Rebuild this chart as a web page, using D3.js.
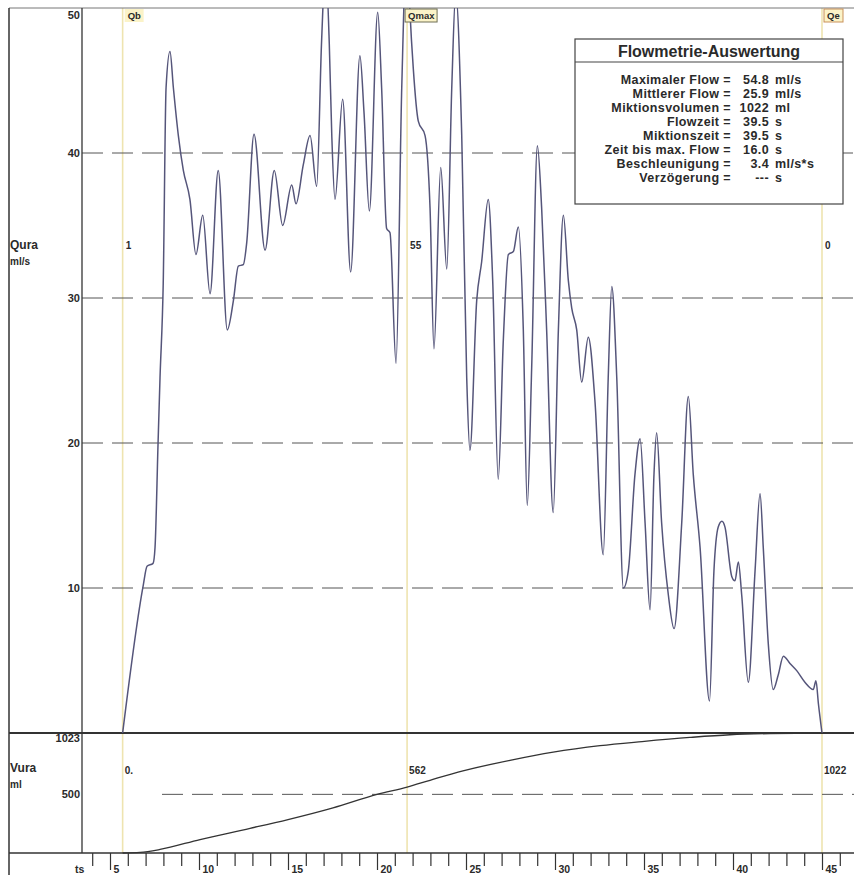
<!DOCTYPE html>
<html>
<head>
<meta charset="utf-8">
<script src="https://cdn.jsdelivr.net/npm/d3@7"></script>
<style>
  body { margin: 0; background: #fff; }
  svg { display: block; font-family: "Liberation Sans", Arial, sans-serif; }
  text { fill: #2a2a2a; }
</style>
</head>
<body>
<svg id="chart" width="854" height="875"></svg>
<script>
// flow curve (time in s, flow in ml/s)
const flowTime = [
  5.71, 6.87, 7.08, 7.42, 7.53, 7.70, 7.81, 7.99, 8.15, 8.37,
  8.56, 8.84, 9.12, 9.49, 9.83, 10.21, 10.62, 11.08, 11.59, 11.93,
  12.21, 12.49, 12.68, 13.09, 13.71, 14.23, 14.70, 15.21, 15.45, 15.86,
  16.24, 16.61, 16.89, 17.11, 17.32, 17.46, 17.64, 18.07, 18.52, 19.04,
  19.27, 19.57, 20.04, 20.26, 20.54, 20.73, 21.07, 21.39, 21.69, 21.85,
  22.04, 22.32, 22.70, 22.98, 23.20, 23.58, 23.92, 24.20, 24.42, 24.76,
  25.04, 25.22, 25.60, 25.88, 26.25, 26.50, 26.81, 27.10, 27.38, 27.66,
  27.94, 28.22, 28.44, 28.69, 29.01, 29.25, 29.53, 29.90, 30.19, 30.47,
  30.75, 30.94, 31.22, 31.50, 31.87, 32.25, 32.71, 32.99, 33.19, 33.47,
  33.84, 34.12, 34.49, 34.78, 35.06, 35.34, 35.56, 35.71, 35.99, 36.37,
  36.69, 37.12, 37.49, 37.77, 38.15, 38.68, 38.93, 39.17, 39.38, 39.55,
  39.93, 40.11, 40.30, 40.49, 40.86, 41.24, 41.52, 41.70, 41.98, 42.26,
  42.54, 42.83, 43.20, 43.58, 44.04, 44.51, 44.66, 44.80, 45.00
]
const flowValue = [
  0, 10.2, 11.5, 11.7, 12.8, 20, 24.5, 31, 44.5, 47,
  44.5, 41.2, 38.8, 36.8, 33, 35.7, 30.3, 38.8, 27.8, 29.8,
  32.2, 32.3, 33.8, 41.3, 33.3, 38.8, 35, 37.8, 36.5, 39.2,
  41.2, 37.7, 47.8, 53, 47.5, 41.2, 36.8, 43.7, 31.8, 46.7,
  42.8, 36, 49.7, 44.5, 34.8, 34.5, 25.5, 44.5, 54.8, 49.8,
  45.8, 42.2, 41.2, 36.2, 26.5, 39, 32, 44.5, 51, 41.2,
  24.5, 19.5, 29.8, 32.5, 36.8, 31.2, 17.5, 27.2, 33, 33.2,
  34.9, 27.8, 15.7, 25.2, 40.5, 36.2, 27.8, 15.2, 27.8, 35.7,
  31.2, 29.3, 27.8, 24.2, 27.3, 22.8, 12.3, 24.5, 30.8, 24.5,
  10, 11.2, 17.8, 20.3, 14.5, 8.5, 17.8, 20.7, 14.5, 9.5,
  7.2, 14.5, 23.2, 17.8, 12.8, 2.2, 11.2, 14.2, 14.6, 14.2,
  10.8, 10.5, 11.8, 9.5, 3.5, 11.2, 16.5, 12.8, 6.2, 3,
  4, 5.3, 4.8, 4.3, 3.5, 3, 3.6, 2, 0
]

// voided volume (time in s, volume in ml)
const volTime = [5.71, 6.69, 7.81, 10.06, 12.87, 15.0, 17.53, 20.0, 21.69, 22.98,
  24.83, 27.47, 29.90, 32.53, 34.89, 37.58, 39.83, 42.08, 45.0]
const volValue = [0, 5, 30, 115, 210, 285, 385, 500, 562, 620,
  700, 790, 860, 915, 950, 985, 1008, 1018, 1022]

// markers
const markerNames = ['Qb', 'Qmax', 'Qe']
const markerTimes = [5.71, 21.69, 45.0]
const markerFlowLabels = ['1', '55', '0']
const markerVolLabels = ['0.', '562', '1022']

// axes
const flowTicks = [10, 20, 30, 40, 50]
const flowGrid = [10, 20, 30, 40]
const volTicks = [500, 1023]
const volGrid = [500]
const timeTicks = d3.range(4, 47)

// evaluation table
const statLabels = ['Maximaler Flow =', 'Mittlerer Flow =', 'Miktionsvolumen =', 'Flowzeit =',
  'Miktionszeit =', 'Zeit bis max. Flow =', 'Beschleunigung =', 'Verzögerung =']
const statNumbers = ['54.8', '25.9', '1022', '39.5', '39.5', '16.0', '3.4', '---']
const statUnits = ['ml/s', 'ml/s', 'ml', 's', 's', 's', 'ml/s*s', 's']

// layout
const plotLeft = 82, plotRight = 854, plotTop = 8, mainBottom = 733, volBottom = 853, frameLeft = 9

const svg = d3.select('#chart')

const x = d3.scaleLinear().domain([5, 45]).range([110, 822])
const yQ = d3.scaleLinear().domain([0, 50]).range([mainBottom, plotTop])
const yV = d3.scaleLinear().domain([0, 1023]).range([volBottom, mainBottom])

svg.append('defs').append('clipPath').attr('id', 'clipMain')
  .append('rect').attr('x', plotLeft).attr('y', plotTop)
  .attr('width', plotRight - plotLeft).attr('height', mainBottom - plotTop)

// marker lines
svg.append('g').selectAll('line').data(markerTimes).join('line')
  .attr('x1', d => x(d)).attr('x2', d => x(d))
  .attr('y1', plotTop).attr('y2', volBottom)
  .attr('stroke', '#eee4b0').attr('stroke-width', 1.6)

// dashed grid
svg.append('g').selectAll('line').data(flowGrid).join('line')
  .attr('x1', plotLeft).attr('x2', plotRight)
  .attr('y1', d => yQ(d)).attr('y2', d => yQ(d))
  .attr('stroke', '#555').attr('stroke-width', 1)
  .attr('stroke-dasharray', '21,9')
svg.append('g').selectAll('line').data(volGrid).join('line')
  .attr('x1', plotLeft + 80).attr('x2', plotRight)
  .attr('y1', d => yV(d)).attr('y2', d => yV(d))
  .attr('stroke', '#555').attr('stroke-width', 1)
  .attr('stroke-dasharray', '21,9')

// frame
const frame = svg.append('g').attr('stroke', '#333').attr('fill', 'none')
frame.append('line').attr('x1', frameLeft).attr('x2', plotRight).attr('y1', plotTop).attr('y2', plotTop).attr('stroke', '#777')
frame.append('line').attr('x1', frameLeft).attr('x2', frameLeft).attr('y1', plotTop).attr('y2', 875).attr('stroke-width', 1.5)
frame.append('line').attr('x1', plotLeft).attr('x2', plotLeft).attr('y1', plotTop).attr('y2', volBottom).attr('stroke-width', 1.3)
frame.append('line').attr('x1', frameLeft).attr('x2', plotRight).attr('y1', mainBottom).attr('y2', mainBottom).attr('stroke-width', 2)
frame.append('line').attr('x1', frameLeft).attr('x2', plotRight).attr('y1', volBottom).attr('y2', volBottom).attr('stroke-width', 1.5)

// flow curve
const flowLine = d3.line()
  .x((d, i) => x(flowTime[i]))
  .y(d => yQ(d))
  .curve(d3.curveMonotoneX)
svg.append('path')
  .datum(flowValue)
  .attr('clip-path', 'url(#clipMain)')
  .attr('d', flowLine)
  .attr('fill', 'none')
  .attr('stroke', '#55557a')
  .attr('stroke-width', 1.5)

// volume curve
const volLine = d3.line()
  .x((d, i) => x(volTime[i]))
  .y(d => yV(d))
  .curve(d3.curveMonotoneX)
svg.append('path')
  .datum(volValue)
  .attr('d', volLine)
  .attr('fill', 'none')
  .attr('stroke', '#333')
  .attr('stroke-width', 1.3)

// y axes
const yAxisQ = svg.append('g').attr('transform', `translate(${plotLeft - 1},0)`)
  .call(d3.axisLeft(yQ).tickValues(flowTicks).tickSize(0).tickPadding(1).tickFormat(d3.format('d')))
yAxisQ.select('.domain').remove()
yAxisQ.selectAll('.tick text')
  .attr('font-size', 11).attr('font-weight', 'bold').attr('fill', '#333')
  .filter(d => d === 50).attr('dy', '0.95em')

const yAxisV = svg.append('g').attr('transform', `translate(${plotLeft - 1},0)`)
  .call(d3.axisLeft(yV).tickValues(volTicks).tickSize(0).tickPadding(1).tickFormat(d3.format('d')))
yAxisV.select('.domain').remove()
yAxisV.selectAll('.tick text')
  .attr('font-size', 11).attr('font-weight', 'bold').attr('fill', '#333')
  .filter(d => d === 1023).attr('dy', '0.75em')

// axis titles
const titles = svg.append('g').attr('font-size', 12).attr('font-weight', 'bold')
titles.append('text').attr('x', 10).attr('y', 249).text('Qura')
titles.append('text').attr('x', 10).attr('y', 265).attr('font-size', 10).text('ml/s')
titles.append('text').attr('x', 10).attr('y', 772).text('Vura')
titles.append('text').attr('x', 10).attr('y', 788).attr('font-size', 10).text('ml')

// time axis
const xAxis = svg.append('g').attr('transform', `translate(0,${volBottom})`)
  .call(d3.axisBottom(x).tickValues(timeTicks).tickSize(13)
    .tickFormat(d => d % 5 === 0 ? d : ''))
xAxis.select('.domain').remove()
xAxis.selectAll('.tick line').attr('stroke', '#333').attr('stroke-width', 1.2)
  .filter(d => d % 5 === 0).attr('y2', 17)
xAxis.selectAll('.tick text')
  .attr('text-anchor', 'start').attr('x', 3).attr('y', 20).attr('dy', null)
  .attr('font-size', 10.5).attr('font-weight', 'bold').attr('fill', '#333')
svg.append('text').attr('x', 75).attr('y', 873)
  .attr('font-size', 10.5).attr('font-weight', 'bold').text('ts')

// marker labels
const mk = svg.append('g').attr('font-size', 10).attr('font-weight', 'bold')
const mkTop = mk.selectAll('g.mtop').data(markerNames).join('g').attr('class', 'mtop')
  .attr('transform', (d, i) => `translate(${x(markerTimes[i]) + (i === 1 ? -2 : 2)},9)`)
mkTop.append('rect')
  .attr('width', d => d.length * 6.5 + 6).attr('height', 13)
  .attr('fill', '#fbf3c8')
  .attr('stroke', (d, i) => i === 0 ? 'none' : (i === 1 ? '#6f6f55' : '#c9915a'))
mkTop.append('text').attr('x', 3).attr('y', 10).attr('font-size', 9.5).text(d => d)

mk.selectAll('text.mflow').data(markerFlowLabels).join('text').attr('class', 'mflow')
  .attr('x', (d, i) => x(markerTimes[i]) + 3).attr('y', 249).text(d => d)
mk.selectAll('text.mvol').data(markerVolLabels).join('text').attr('class', 'mvol')
  .attr('x', (d, i) => x(markerTimes[i]) + 2).attr('y', 774).text(d => d)

// evaluation box
const box = svg.append('g').attr('transform', 'translate(575,39)')
box.append('rect').attr('width', 268).attr('height', 165)
  .attr('fill', '#fff').attr('stroke', '#444').attr('stroke-width', 1.2)
box.append('line').attr('x1', 0).attr('x2', 268).attr('y1', 23).attr('y2', 23)
  .attr('stroke', '#444').attr('stroke-width', 1.2)
box.append('text').attr('x', 134).attr('y', 18).attr('text-anchor', 'middle')
  .attr('font-size', 16).attr('font-weight', 'bold').text('Flowmetrie-Auswertung')
const rows = box.selectAll('g.row').data(statLabels).join('g').attr('class', 'row')
  .attr('transform', (d, i) => `translate(0,${45 + i * 14})`)
  .attr('font-size', 12.5).attr('font-weight', 'bold').attr('letter-spacing', 0.4)
rows.append('text').attr('x', 156).attr('text-anchor', 'end').text(d => d)
rows.append('text').attr('x', 194).attr('text-anchor', 'end').text((d, i) => statNumbers[i])
rows.append('text').attr('x', 200).text((d, i) => statUnits[i])
</script>
</body>
</html>
